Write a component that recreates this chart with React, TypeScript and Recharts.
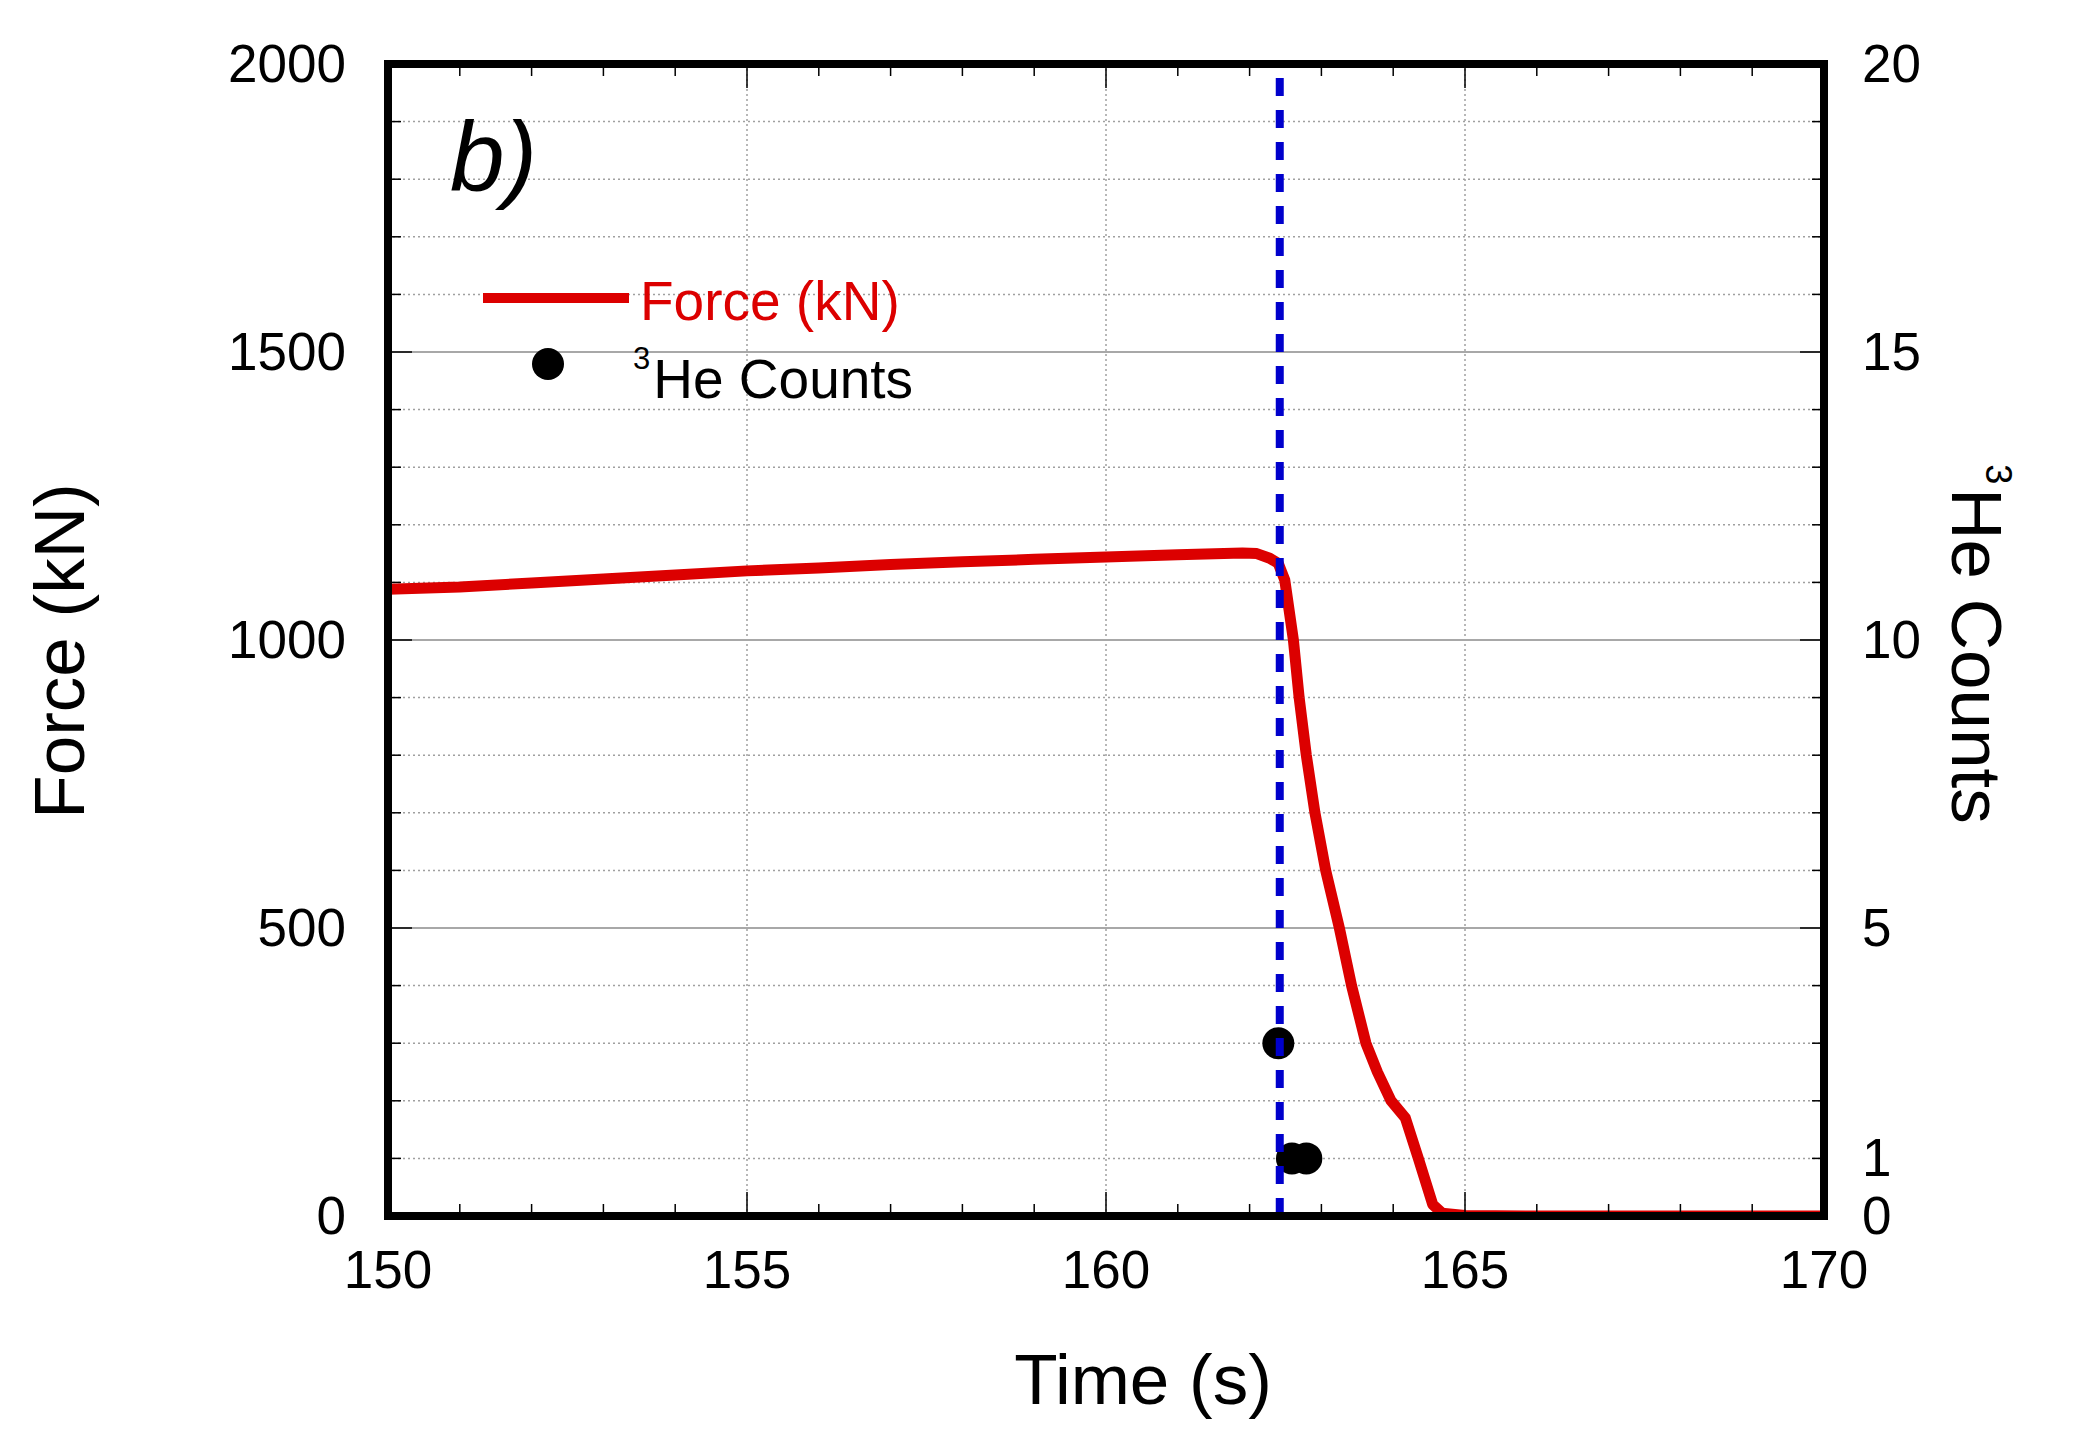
import React from "react";
import {
  ComposedChart,
  Line,
  Scatter,
  XAxis,
  YAxis,
  CartesianGrid,
  ReferenceLine,
  Legend,
} from "recharts";

const FONT = "'Liberation Sans', Arial, Helvetica, sans-serif";
const RED = "#dc0000";
const BLUE = "#0000cc";

// axis ticks
const timeTicks = [150, 151, 152, 153, 154, 155, 156, 157, 158, 159, 160, 161, 162, 163, 164, 165, 166, 167, 168, 169, 170];
const timeLabels = [150, 155, 160, 165, 170];
const forceTicks = [0, 100, 200, 300, 400, 500, 600, 700, 800, 900, 1000, 1100, 1200, 1300, 1400, 1500, 1600, 1700, 1800, 1900, 2000];
const forceLabels = [0, 500, 1000, 1500, 2000];
const countTicks = [0, 1, 2, 3, 4, 5, 6, 7, 8, 9, 10, 11, 12, 13, 14, 15, 16, 17, 18, 19, 20];
const countLabels = [0, 1, 5, 10, 15, 20];
const countMajor = [0, 5, 10, 15, 20];

// force trace (s, kN)
const forceTime = [
  150, 151, 152, 153, 154, 155, 156, 157, 158, 159, 160, 161, 161.9, 162.1, 162.28, 162.4, 162.49,
  162.61, 162.69, 162.79, 162.91, 163.06, 163.25, 163.42, 163.62, 163.78, 163.97, 164.17, 164.35,
  164.55, 164.68, 165, 166, 167, 168, 169, 170,
];
const forceValues = [
  1088, 1092, 1099, 1106, 1113, 1120, 1125, 1131, 1136, 1140, 1144, 1148, 1151, 1150, 1142, 1133, 1104,
  1000, 900, 800, 700, 600, 500, 400, 300, 250, 200, 170, 100,
  20, 5, 1, 0, 0, 0, 0, 0,
];

// 3He detector counts
const countTime = [162.4, 162.59, 162.79];
const countValues = [3, 1, 1];

const onsetTime = 162.42;

const forceData = forceTime.map((t, i) => ({ t, f: forceValues[i] }));
const countData = countTime.map((t, i) => ({ t, c: countValues[i] }));

const frame = { stroke: "#000", strokeWidth: 8, strokeLinecap: "square" as const };

const BottomTick = (props: any) => {
  const { x, y, payload } = props;
  const major = timeLabels.includes(payload.value);
  return (
    <g>
      <line x1={x} x2={x} y1={y} y2={y - (major ? 24 : 12)} stroke="#000" strokeWidth={1.5} />
      {major && (
        <text x={x} y={y + 72} textAnchor="middle" fontSize={53} fontFamily={FONT} fill="#000">
          {payload.value}
        </text>
      )}
    </g>
  );
};

const TopTick = (props: any) => {
  const { x, y, payload } = props;
  const major = timeLabels.includes(payload.value);
  return <line x1={x} x2={x} y1={y} y2={y + (major ? 24 : 12)} stroke="#000" strokeWidth={1.5} />;
};

const LeftTick = (props: any) => {
  const { x, y, payload } = props;
  const major = forceLabels.includes(payload.value);
  return (
    <g>
      <line x1={x} x2={x + (major ? 24 : 13)} y1={y} y2={y} stroke="#000" strokeWidth={1.5} />
      {major && (
        <text x={x - 42} y={y + 18} textAnchor="end" fontSize={53} fontFamily={FONT} fill="#000">
          {payload.value}
        </text>
      )}
    </g>
  );
};

const RightTick = (props: any) => {
  const { x, y, payload } = props;
  const major = countMajor.includes(payload.value);
  return (
    <g>
      <line x1={x - (major ? 24 : 12)} x2={x} y1={y} y2={y} stroke="#000" strokeWidth={1.5} />
      {countLabels.includes(payload.value) && (
        <text x={x + 38} y={y + 18} textAnchor="start" fontSize={53} fontFamily={FONT} fill="#000">
          {payload.value}
        </text>
      )}
    </g>
  );
};

const TimeTitle = () => (
  <text x={1143} y={1404} textAnchor="middle" fontSize={71} fontFamily={FONT} fill="#000">
    Time (s)
  </text>
);

const ForceTitle = () => (
  <text x={84} y={651} transform="rotate(-90 84 651)" textAnchor="middle" fontSize={71} fontFamily={FONT} fill="#000">
    Force (kN)
  </text>
);

const CountTitle = () => (
  <text x={1952} y={644} transform="rotate(90 1952 644)" textAnchor="middle" fontSize={71} fontFamily={FONT} fill="#000">
    <tspan fontSize={36} dy={-34}>3</tspan>
    <tspan dy={34} dx={4}>He Counts</tspan>
  </text>
);

const LegendBox = () => (
  <svg width={480} height={160} style={{ display: "block", overflow: "visible" }}>
    <line x1={13} x2={159} y1={38} y2={38} stroke={RED} strokeWidth={10} />
    <text x={170} y={60} fontSize={55} fontFamily={FONT} fill={RED}>
      Force (kN)
    </text>
    <circle cx={78} cy={104} r={16} fill="#000" />
    <text x={163} y={138} fontSize={55} fontFamily={FONT} fill="#000">
      <tspan fontSize={31} dy={-29}>3</tspan>
      <tspan dy={29} dx={3}>He Counts</tspan>
    </text>
  </svg>
);

const Dot = (props: any) => {
  const { cx, cy } = props;
  if (cx == null || cy == null) return null;
  return <circle cx={cx} cy={cy} r={16} fill="#000" />;
};

export default function App() {
  return (
    <div style={{ position: "absolute", left: 0, top: 0, width: 2076, height: 1440, background: "#fff" }}>
      <ComposedChart
        width={2076}
        height={1440}
        margin={{ top: 54, right: 132, bottom: 144, left: 268 }}
        style={{ fontFamily: FONT }}
      >
        <CartesianGrid
          xAxisId="bottom"
          yAxisId="left"
          vertical={false}
          stroke="#a0a0a0"
          strokeWidth={1.5}
          strokeDasharray="2 3"
        />
        {timeLabels.slice(1, -1).map((t) => (
          <ReferenceLine
            key={"vx" + t}
            x={t}
            xAxisId="bottom"
            yAxisId="left"
            stroke="#a0a0a0"
            strokeWidth={1.5}
            strokeDasharray="2 3"
            zIndex={-50}
          />
        ))}
        {forceLabels.slice(1, -1).map((f) => (
          <ReferenceLine
            key={"hy" + f}
            y={f}
            xAxisId="bottom"
            yAxisId="left"
            stroke="#a8a8a8"
            strokeWidth={2}
            zIndex={-50}
          />
        ))}

        <Line
          data={forceData}
          xAxisId="bottom"
          yAxisId="left"
          dataKey="f"
          type="linear"
          stroke={RED}
          strokeWidth={11}
          strokeLinejoin="round"
          dot={false}
          activeDot={false}
          isAnimationActive={false}
          zIndex={400}
        />
        <Scatter
          data={countData}
          xAxisId="top"
          yAxisId="right"
          dataKey="c"
          shape={<Dot />}
          isAnimationActive={false}
          zIndex={600}
        />
        <ReferenceLine
          x={onsetTime}
          xAxisId="bottom"
          yAxisId="left"
          stroke={BLUE}
          strokeWidth={8}
          strokeDasharray="18 14"
          zIndex={700}
        />

        <XAxis
          xAxisId="bottom"
          type="number"
          dataKey="t"
          domain={[150, 170]}
          allowDataOverflow
          ticks={timeTicks}
          interval={0}
          height={80}
          tickSize={0}
          tickMargin={0}
          tickLine={false}
          axisLine={frame}
          tick={<BottomTick />}
          label={<TimeTitle />}
          zIndex={800}
        />
        <XAxis
          xAxisId="top"
          orientation="top"
          type="number"
          dataKey="t"
          domain={[150, 170]}
          allowDataOverflow
          ticks={timeTicks}
          interval={0}
          height={10}
          tickSize={0}
          tickMargin={0}
          tickLine={false}
          axisLine={frame}
          tick={<TopTick />}
          zIndex={800}
        />
        <YAxis
          yAxisId="left"
          type="number"
          domain={[0, 2000]}
          allowDataOverflow
          ticks={forceTicks}
          interval={0}
          width={120}
          tickSize={0}
          tickMargin={0}
          tickLine={false}
          axisLine={frame}
          tick={<LeftTick />}
          label={<ForceTitle />}
          zIndex={800}
        />
        <YAxis
          yAxisId="right"
          orientation="right"
          type="number"
          dataKey="c"
          domain={[0, 20]}
          allowDataOverflow
          ticks={countTicks}
          interval={0}
          width={120}
          tickSize={0}
          tickMargin={0}
          tickLine={false}
          axisLine={frame}
          tick={<RightTick />}
          label={<CountTitle />}
          zIndex={800}
        />

        <Legend
          layout="horizontal"
          verticalAlign="middle"
          align="center"
          content={<LegendBox />}
          wrapperStyle={{ left: 470, top: 260, width: 480, height: 160 }}
        />
      </ComposedChart>

      <svg
        width={2076}
        height={1440}
        style={{ position: "absolute", left: 0, top: 0, pointerEvents: "none" }}
      >
        <text x={450} y={190} fontSize={98} fontStyle="italic" fontFamily={FONT} fill="#000">
          b)
        </text>
      </svg>
    </div>
  );
}
